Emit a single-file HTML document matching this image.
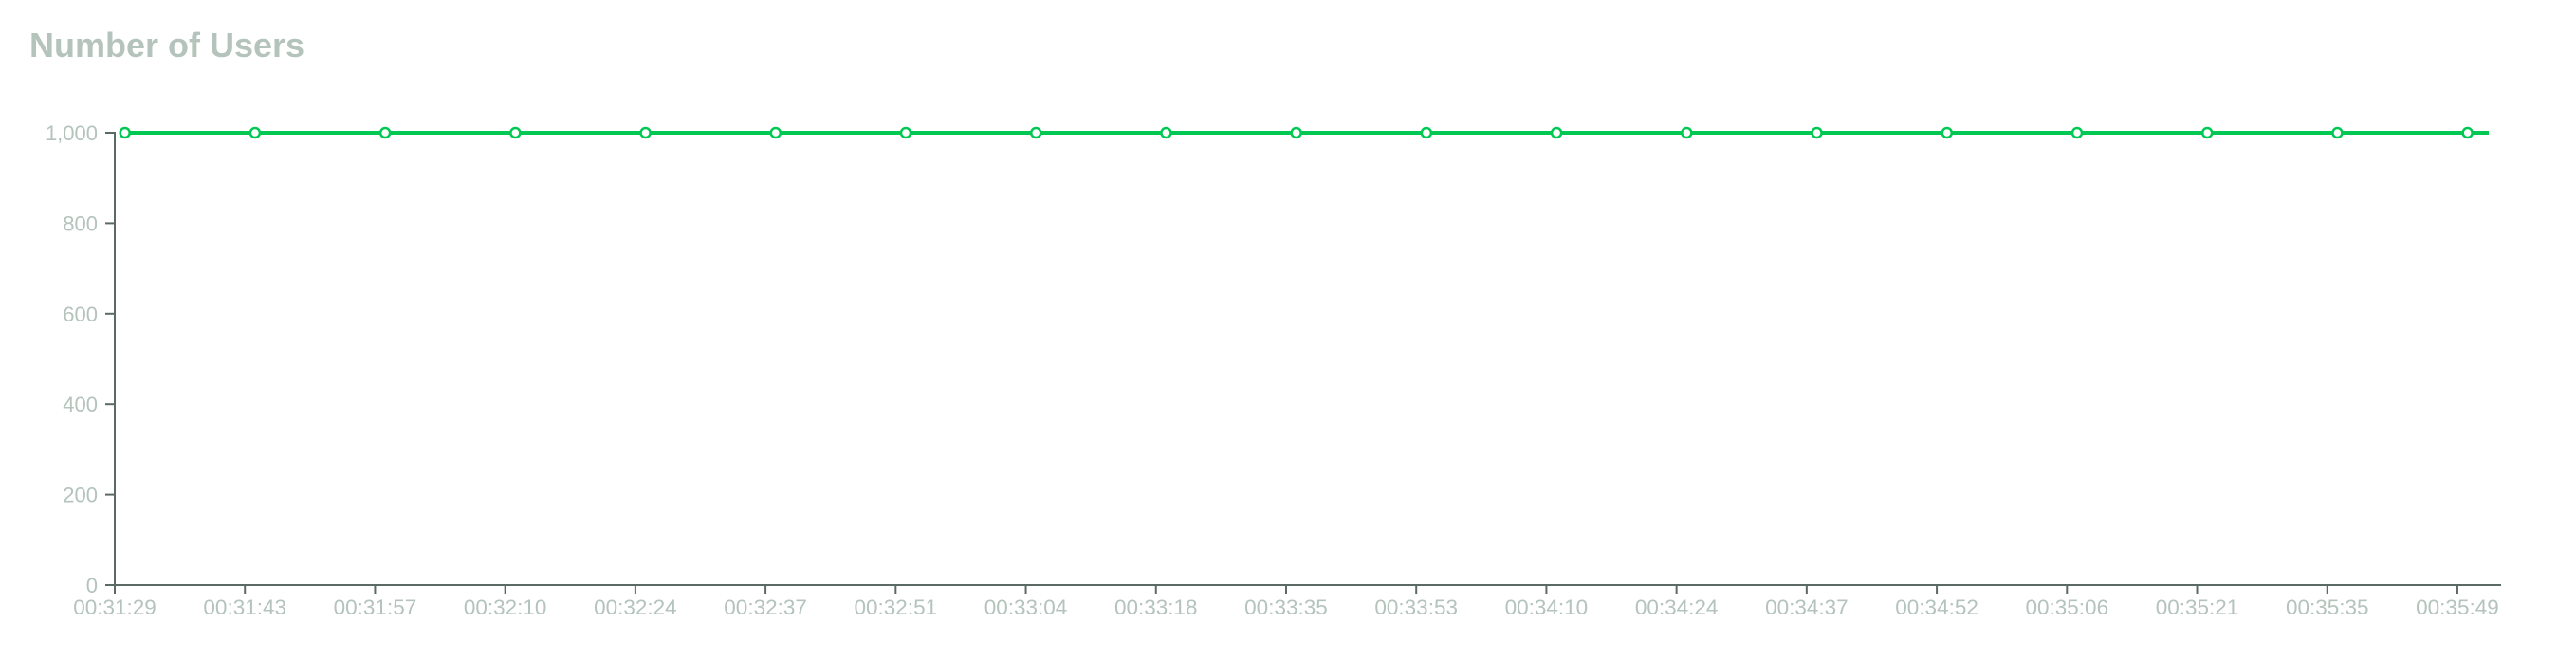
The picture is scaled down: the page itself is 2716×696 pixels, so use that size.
<!DOCTYPE html>
<html><head><meta charset="utf-8">
<style>
html,body{margin:0;padding:0;background:#fff;}
svg{display:block;}
text{font-family:"Liberation Sans",Arial,sans-serif;}
</style></head>
<body>
<svg id="chart" width="2716" height="696" viewBox="0 0 2716 696" xmlns="http://www.w3.org/2000/svg">
<text x="31" y="60" font-size="36" font-weight="bold" fill="#b4c3bc">Number of Users</text>
<g id="axes"></g>
<g id="series"></g>
</svg>
<script>
const xTickLabels = ["00:31:29","00:31:43","00:31:57","00:32:10","00:32:24","00:32:37","00:32:51","00:33:04","00:33:18","00:33:35","00:33:53","00:34:10","00:34:24","00:34:37","00:34:52","00:35:06","00:35:21","00:35:35","00:35:49"];
const yTickValues = [0,200,400,600,800,1000];
const yTickLabels = ["0","200","400","600","800","1,000"];
const userCounts = [1000,1000,1000,1000,1000,1000,1000,1000,1000,1000,1000,1000,1000,1000,1000,1000,1000,1000,1000];

const NS="http://www.w3.org/2000/svg";
const axisColor="#5b6a65", labelColor="#b4c3bc", green="#00c853";
const x0=121, xEnd=2637, step=137.22, pointOffset=10.7, lineEnd=2624;
const yTop=140, yBot=617, yMax=1000;
function xTick(i){return x0+i*step;}
function xPoint(i){return x0+pointOffset+i*step;}
function y(v){return yBot-(v/yMax)*(yBot-yTop);}
function mk(tag,attrs,parent){const e=document.createElementNS(NS,tag);for(const k in attrs)e.setAttribute(k,attrs[k]);parent.appendChild(e);return e;}

const axes=document.getElementById('axes');
const series=document.getElementById('series');

let ya=mk('path',{d:`M${x0-10},${y(yMax)}H${x0}V${yBot}`,stroke:axisColor,'stroke-width':2,fill:'none'},axes);


let xa=mk('path',{d:`M${x0-10},${yBot}H${xEnd}`,stroke:axisColor,'stroke-width':2,fill:'none'},axes);



yTickValues.forEach((v,i)=>{
  const t=mk('line',{x1:x0-10,x2:x0,y1:y(v),y2:y(v),stroke:axisColor,'stroke-width':2},axes);
  
  
  const l=mk('text',{x:x0-18,y:y(v)+8,'font-size':22,fill:labelColor,'text-anchor':'end'},axes);
  l.textContent=yTickLabels[i];
  
  
});
xTickLabels.forEach((s,i)=>{
  const x=xTick(i);
  const t=mk('line',{x1:x,x2:x,y1:yBot,y2:yBot+9,stroke:axisColor,'stroke-width':2},axes);
  
  
  const l=mk('text',{x:x,y:yBot+31,'font-size':22.5,fill:labelColor,'text-anchor':'middle'},axes);
  l.textContent=s;
  
  
});

let d=userCounts.map((v,i)=>(i?'L':'M')+xPoint(i)+','+y(v)).join('');
d+='L'+lineEnd+','+y(userCounts[userCounts.length-1]);
const line=mk('path',{d:d,stroke:green,'stroke-width':4,fill:'none'},series);


userCounts.forEach((v,i)=>{
  const c=mk('circle',{cx:xPoint(i),cy:y(v),r:5,fill:'#fff',stroke:green,'stroke-width':2.5},series);
  
  
});
</script>
</body></html>
